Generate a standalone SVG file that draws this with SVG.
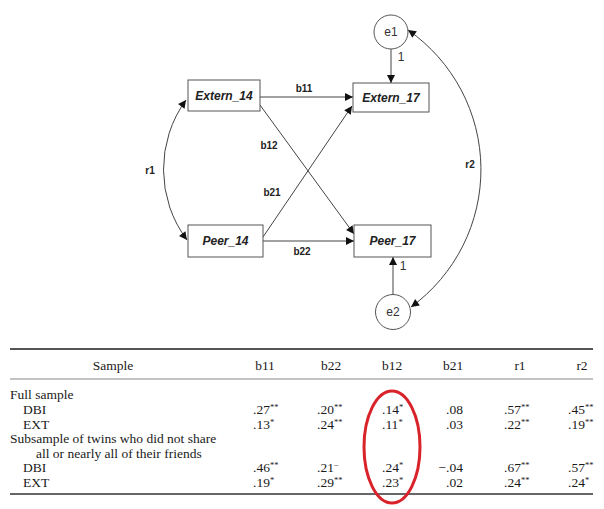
<svg xmlns="http://www.w3.org/2000/svg" width="604" height="509" viewBox="0 0 604 509">
<style>
.box{fill:#fff;stroke:#555;stroke-width:1}
.circ{fill:#fff;stroke:#555;stroke-width:1}
.node{font-family:"Liberation Sans",Arial,sans-serif;font-size:12px;font-weight:bold;font-style:italic;fill:#222;text-anchor:middle}
.err{font-family:"Liberation Sans",Arial,sans-serif;font-size:12px;fill:#333;text-anchor:middle}
.lab{font-family:"Liberation Sans",Arial,sans-serif;font-size:10px;font-weight:bold;fill:#222;text-anchor:middle}
.one{font-family:"Liberation Sans",Arial,sans-serif;font-size:12px;fill:#333;text-anchor:middle}
.edge{fill:none;stroke:#444;stroke-width:1}
.t{font-family:"Liberation Serif","Times New Roman",serif;font-size:13.5px;fill:#1a1a1a}
.h{text-anchor:middle}
.s{font-size:8.5px}
</style>
<defs>
<marker id="ah" viewBox="0 0 10 10" refX="10" refY="5" markerWidth="9" markerHeight="8" markerUnits="userSpaceOnUse" orient="auto-start-reverse">
<path d="M0,0 L10,5 L0,10 z" fill="#111"/>
</marker>
</defs>

<g id="connectors">
<line class="edge" x1="260" y1="97" x2="353" y2="97" marker-end="url(#ah)"/>
<line class="edge" x1="263" y1="241" x2="354" y2="241" marker-end="url(#ah)"/>
<line class="edge" x1="260" y1="105" x2="354" y2="234" marker-end="url(#ah)"/>
<line class="edge" x1="263" y1="237" x2="352" y2="106" marker-end="url(#ah)"/>
<line class="edge" x1="391" y1="49" x2="391" y2="83" marker-end="url(#ah)"/>
<line class="edge" x1="393" y1="294" x2="393" y2="257" marker-end="url(#ah)"/>
<path class="edge" d="M186,100 A118,118 0 0 0 187,240" marker-start="url(#ah)" marker-end="url(#ah)"/>
<path class="edge" d="M408,30 A170,170 0 0 1 411,307" marker-start="url(#ah)" marker-end="url(#ah)"/>
<text class="lab" x="304" y="92">b11</text>
<text class="lab" x="269" y="149">b12</text>
<text class="lab" x="272" y="196">b21</text>
<text class="lab" x="302" y="255">b22</text>
<text class="lab" x="150" y="174">r1</text>
<text class="lab" x="470" y="168">r2</text>
<text class="one" x="401" y="61">1</text>
<text class="one" x="403" y="270">1</text>
</g>

<g id="Extern_14">
<rect class="box" x="188" y="80" width="72" height="31"/>
<text class="node" x="224" y="100">Extern_14</text>
</g>
<g id="Extern_17">
<rect class="box" x="353" y="83" width="76" height="29"/>
<text class="node" x="391" y="102">Extern_17</text>
</g>
<g id="Peer_14">
<rect class="box" x="188" y="225" width="75" height="32"/>
<text class="node" x="225.5" y="245">Peer_14</text>
</g>
<g id="Peer_17">
<rect class="box" x="354" y="225" width="77" height="32"/>
<text class="node" x="392.5" y="245">Peer_17</text>
</g>
<g id="e1">
<circle class="circ" cx="391" cy="32" r="17"/>
<text class="err" x="391" y="36">e1</text>
</g>
<g id="e2">
<circle class="circ" cx="393" cy="312" r="17.5"/>
<text class="err" x="393" y="316">e2</text>
</g>

<g id="table">
<line x1="10" y1="349" x2="593" y2="349" stroke="#555" stroke-width="2"/>
<line x1="10" y1="379" x2="593" y2="379" stroke="#888" stroke-width="1"/>
<line x1="10" y1="494" x2="593" y2="494" stroke="#666" stroke-width="2"/>
<text class="t h" x="113" y="370">Sample</text>
<text class="t h" x="265" y="370">b11</text>
<text class="t h" x="331" y="370">b22</text>
<text class="t h" x="392" y="370">b12</text>
<text class="t h" x="453" y="370">b21</text>
<text class="t h" x="520" y="370">r1</text>
<text class="t h" x="582" y="370">r2</text>

<text class="t" x="10" y="399">Full sample</text>
<text class="t" x="23" y="414">DBI</text>
<text class="t" x="23" y="428.5">EXT</text>
<text class="t" x="10" y="443">Subsample of twins who did not share</text>
<text class="t" x="36" y="457.5">all or nearly all of their friends</text>
<text class="t" x="23" y="472">DBI</text>
<text class="t" x="23" y="486.5">EXT</text>

<text class="t" x="253" y="414">.27<tspan class="s" dy="-4">**</tspan></text>
<text class="t" x="253" y="428.5">.13<tspan class="s" dy="-4">*</tspan></text>
<text class="t" x="253" y="472">.46<tspan class="s" dy="-4">**</tspan></text>
<text class="t" x="253" y="486.5">.19<tspan class="s" dy="-4">*</tspan></text>

<text class="t" x="317" y="414">.20<tspan class="s" dy="-4">**</tspan></text>
<text class="t" x="317" y="428.5">.24<tspan class="s" dy="-4">**</tspan></text>
<text class="t" x="317" y="472">.21<tspan class="s" dy="-4">−</tspan></text>
<text class="t" x="317" y="486.5">.29<tspan class="s" dy="-4">**</tspan></text>

<text class="t" x="382" y="414">.14<tspan class="s" dy="-4">*</tspan></text>
<text class="t" x="382" y="428.5">.11<tspan class="s" dy="-4">*</tspan></text>
<text class="t" x="382" y="472">.24<tspan class="s" dy="-4">*</tspan></text>
<text class="t" x="382" y="486.5">.23<tspan class="s" dy="-4">*</tspan></text>

<text class="t" x="446" y="414">.08</text>
<text class="t" x="446" y="428.5">.03</text>
<text class="t" x="438.5" y="472">−.04</text>
<text class="t" x="446" y="486.5">.02</text>

<text class="t" x="504" y="414">.57<tspan class="s" dy="-4">**</tspan></text>
<text class="t" x="504" y="428.5">.22<tspan class="s" dy="-4">**</tspan></text>
<text class="t" x="504" y="472">.67<tspan class="s" dy="-4">**</tspan></text>
<text class="t" x="504" y="486.5">.24<tspan class="s" dy="-4">**</tspan></text>

<text class="t" x="568" y="414">.45<tspan class="s" dy="-4">**</tspan></text>
<text class="t" x="568" y="428.5">.19<tspan class="s" dy="-4">**</tspan></text>
<text class="t" x="568" y="472">.57<tspan class="s" dy="-4">**</tspan></text>
<text class="t" x="568" y="486.5">.24<tspan class="s" dy="-4">*</tspan></text>

<ellipse cx="392" cy="447" rx="28" ry="56" fill="none" stroke="#d8232a" stroke-width="3"/>
</g>
</svg>
